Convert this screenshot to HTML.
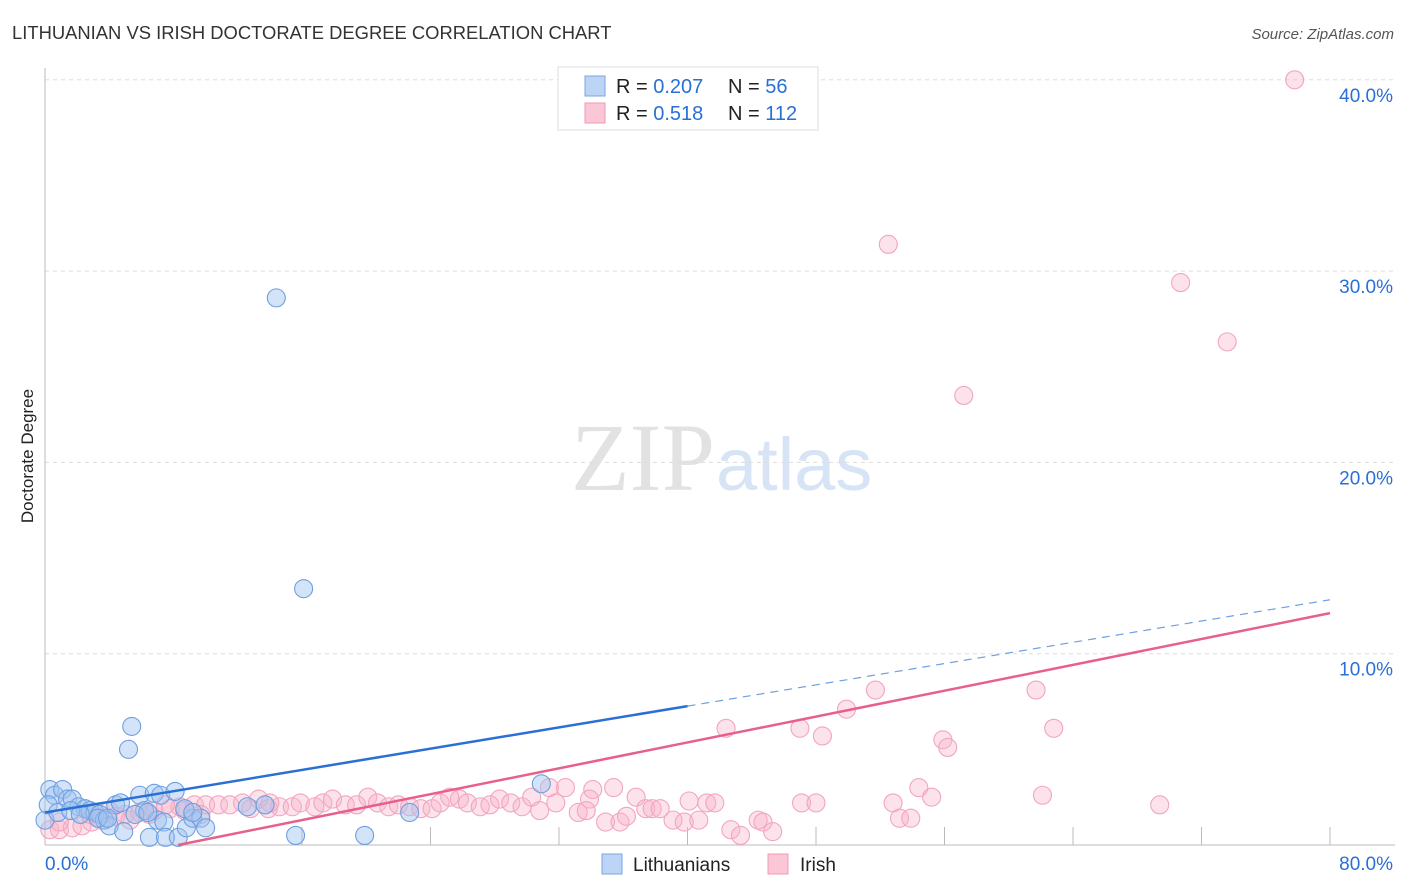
<!DOCTYPE html>
<html><head><meta charset="utf-8"><style>
body{margin:0;background:#fff;font-family:"Liberation Sans",sans-serif}
</style></head><body>
<svg id="c" width="1406" height="892" xmlns="http://www.w3.org/2000/svg" style="display:block">
<text x="12" y="39" font-size="18.4" fill="#333">LITHUANIAN VS IRISH DOCTORATE DEGREE CORRELATION CHART</text>
<text x="1394" y="39" font-size="15" fill="#555" text-anchor="end" font-style="italic">Source: ZipAtlas.com</text>
<text x="715" y="490" font-size="96" fill="#e2e2e2" text-anchor="end" font-family="Liberation Serif">ZIP</text>
<text x="716" y="490" font-size="74" fill="#d6e4f5">atlas</text>
<text x="33" y="456" font-size="17" fill="#222" text-anchor="middle" transform="rotate(-90 33 456)">Doctorate Degree</text>
<g id="grid"></g><g id="axes"></g><g id="pts"></g><g id="lines"></g>
<g>
<rect x="558" y="67" width="260" height="63" fill="#fff" stroke="#ddd"/>
<rect x="585" y="76" width="20" height="20" fill="#bcd4f5" stroke="#7ba6e0"/>
<rect x="585" y="103" width="20" height="20" fill="#fbc7d7" stroke="#f09ab5"/>
<text x="616" y="93" font-size="20" fill="#222">R = <tspan fill="#2a6fd6">0.207</tspan></text>
<text x="728" y="93" font-size="20" fill="#222">N = <tspan fill="#2a6fd6"> 56</tspan></text>
<text x="616" y="120" font-size="20" fill="#222">R = <tspan fill="#2a6fd6"> 0.518</tspan></text>
<text x="728" y="120" font-size="20" fill="#222">N = <tspan fill="#2a6fd6">112</tspan></text>
</g>
<g>
<rect x="602" y="854" width="20" height="20" fill="#bcd4f5" stroke="#7ba6e0"/>
<text x="633" y="871" font-size="19" fill="#222">Lithuanians</text>
<rect x="768" y="854" width="20" height="20" fill="#fbc7d7" stroke="#f09ab5"/>
<text x="800" y="871" font-size="19" fill="#222">Irish</text>
</g>
</svg>
<script>
const yTicks=[10,20,30,40];
const yTickLabels=["10.0%","20.0%","30.0%","40.0%"];
const xTicks=[8,16,24,32,40,48,56,64,72,80];
const blueX=[14.4,16.1,5.4,5.2,30.9,22.7,12.6,15.6,19.9,0.3,0.6,1.1,1.4,1.7,2.1,2.5,2.8,3.1,3.4,3.7,4.0,4.4,4.7,4.9,5.9,6.2,6.5,6.8,7.2,7.0,7.4,7.5,8.1,8.3,8.8,9.2,9.7,10.0,0,0.2,0.8,1.6,2.2,5.6,6.4,8.7,9.2,13.7,3.3,3.9];
const blueY=[28.6,13.4,6.2,5.0,3.2,1.7,2.0,0.5,0.5,2.9,2.6,2.9,2.4,2.4,2.0,1.9,1.8,1.7,1.6,1.3,1.0,2.1,2.2,0.7,2.6,1.8,0.4,2.7,2.6,1.3,1.2,0.4,2.8,0.4,0.9,1.4,1.4,0.9,1.3,2.1,1.7,1.8,1.6,1.6,1.7,1.9,1.7,2.1,1.4,1.4];
const pinkX=[77.8,52.5,70.7,73.6,57.2,51.7,61.7,49.9,42.4,47.0,48.4,62.8,55.9,56.2,54.4,55.2,62.1,69.4,52.8,53.2,53.9,47.1,48.0,40.1,41.2,41.7,39.1,39.8,40.7,42.7,43.3,44.4,44.7,45.3,35.4,36.8,34.1,32.4,31.4,31.8,33.9,34.9,35.8,36.2,37.4,37.8,38.3,33.2,33.7,0.3,0.9,1.7,2.3,2.9,3.5,4.4,5.0,5.9,6.8,7.8,8.4,9.3,10.0,10.8,11.5,12.3,13.3,13.9,14.6,15.4,15.9,16.8,17.3,17.9,18.7,19.4,20.1,20.7,21.4,22.0,22.7,23.4,24.1,24.6,25.2,25.8,26.3,27.1,27.7,28.3,29.0,29.7,30.3,30.8,0.9,2.8,4.0,5.3,6.5,7.5,8.7,9.7,12.8,14.0];
const pinkY=[40.0,31.4,29.4,26.3,23.5,8.1,8.1,7.1,6.1,6.1,5.7,6.1,5.5,5.1,3.0,2.5,2.6,2.1,2.2,1.4,1.4,2.2,2.2,2.3,2.2,2.2,1.3,1.2,1.3,0.8,0.5,1.3,1.2,0.7,3.0,2.5,2.9,3.0,3.0,2.2,2.4,1.2,1.2,1.5,1.9,1.9,1.9,1.7,1.8,0.8,0.8,0.9,1.0,1.2,1.3,1.5,1.6,1.7,1.8,1.9,2.0,2.1,2.1,2.1,2.1,2.2,2.4,1.9,2.0,2.0,2.2,2.0,2.2,2.4,2.1,2.1,2.5,2.2,2.0,2.1,2.0,1.9,1.9,2.2,2.5,2.4,2.2,2.0,2.1,2.4,2.2,2.0,2.5,1.8,1.2,1.6,1.8,1.3,1.6,2.1,1.8,1.6,1.9,2.2];
const blueTrend=[1.7,0.139], pinkTrend=[-1.4,0.169];
const NS="http://www.w3.org/2000/svg";
const X=v=>45+v*16.0625, Y=v=>845-v*19.13;
function mk(p,t,a){const e=document.createElementNS(NS,t);for(const k in a)e.setAttribute(k,a[k]);document.getElementById(p).appendChild(e);return e;}
yTicks.forEach((t,i)=>{
 const g=mk('grid','line',{x1:45,x2:1395,y1:Y(t),y2:Y(t),stroke:'#ddd','stroke-dasharray':'4,4'});
 
 
 const l=mk('grid','text',{x:1393,y:Y(t)+22,'font-size':19,fill:'#2a6fd6','text-anchor':'end'});l.textContent=yTickLabels[i];
 
 
});
mk('axes','line',{x1:45,x2:45,y1:68,y2:845,stroke:'#bbb'});
mk('axes','line',{x1:45,x2:1395,y1:845,y2:845,stroke:'#bbb'});
xTicks.forEach(t=>{const e=mk('axes','line',{x1:X(t),x2:X(t),y1:827,y2:845,stroke:'#bbb'});
 
 });
let a=mk('axes','text',{x:45,y:870,'font-size':19,fill:'#2a6fd6'});a.textContent='0.0%';


a=mk('axes','text',{x:1393,y:870,'font-size':19,fill:'#2a6fd6','text-anchor':'end'});a.textContent='80.0%';


pinkX.forEach((x,i)=>{const c=mk('pts','circle',{cx:X(x),cy:Y(pinkY[i]),r:9,fill:'rgba(248,180,202,0.38)',stroke:'#f3a5be','stroke-width':1.1});
 
 });
blueX.forEach((x,i)=>{const c=mk('pts','circle',{cx:X(x),cy:Y(blueY[i]),r:9,fill:'rgba(160,196,240,0.45)',stroke:'#6f9fe0','stroke-width':1.1});
 
 });
const bt=x=>blueTrend[0]+blueTrend[1]*x, pt=x=>pinkTrend[0]+pinkTrend[1]*x;
let l=mk('lines','line',{x1:X(0),y1:Y(bt(0)),x2:X(40),y2:Y(bt(40)),stroke:'#2a6fd6','stroke-width':2.5});


l=mk('lines','line',{x1:X(40),y1:Y(bt(40)),x2:X(80),y2:Y(bt(80)),stroke:'#6f9fe0','stroke-width':1.2,'stroke-dasharray':'8,6'});


const x0=-pinkTrend[0]/pinkTrend[1];
l=mk('lines','line',{x1:X(x0),y1:Y(pt(x0)),x2:X(80),y2:Y(pt(80)),stroke:'#e8608a','stroke-width':2.5});


</script>
</body></html>
